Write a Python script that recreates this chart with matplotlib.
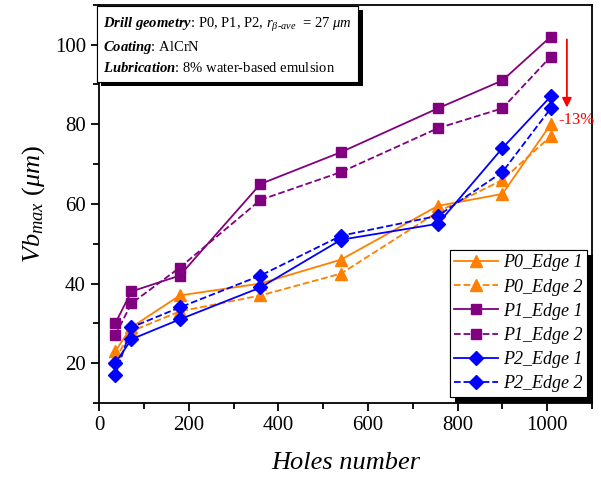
import matplotlib
matplotlib.use("Agg")
import matplotlib.pyplot as plt
from matplotlib.ticker import MultipleLocator
import matplotlib.patheffects as pe

plt.rcParams['font.family'] = ['Liberation Serif', 'DejaVu Serif']
plt.rcParams['mathtext.fontset'] = 'custom'
plt.rcParams['mathtext.rm'] = 'Liberation Serif'
plt.rcParams['mathtext.it'] = 'Liberation Serif:italic'
plt.rcParams['mathtext.bf'] = 'Liberation Serif:bold:italic'

holes = [36, 72, 180, 360, 540, 756, 900, 1008]
p0_edge1 = [23, 29, 37, 40, 46, 59.5, 62.5, 80]
p0_edge2 = [21, 28, 33, 37, 42.5, 58, 66, 77]
p1_edge1 = [30, 38, 42, 65, 73, 84, 91, 102]
p1_edge2 = [27, 35, 44, 61, 68, 79, 84, 97]
p2_edge1 = [20, 26, 31, 39, 51, 55, 74, 87]
p2_edge2 = [17, 29, 34, 42, 52, 57, 68, 84]

orange = '#FF8000'
purple = '#800080'
blue = '#0000FF'

fig = plt.figure(figsize=(6.01, 4.82), dpi=100)
ax = fig.add_axes([0.165, 0.164, 0.82, 0.826])

series = [
    ('P0_Edge 1', p0_edge1, orange, '-', '^', 8.5),
    ('P0_Edge 2', p0_edge2, orange, '--', '^', 8.5),
    ('P1_Edge 1', p1_edge1, purple, '-', 's', 7),
    ('P1_Edge 2', p1_edge2, purple, '--', 's', 7),
    ('P2_Edge 1', p2_edge1, blue, '-', 'D', 7),
    ('P2_Edge 2', p2_edge2, blue, '--', 'D', 7),
]
for name, vals, c, ls, m, ms in series:
    ax.plot(holes, vals, color=c, linestyle=ls, marker=m, markersize=ms,
            linewidth=1.3, label=name)

ax.set_xlim(0, 1100)
ax.set_ylim(10, 110)
ax.xaxis.set_major_locator(MultipleLocator(200))
ax.xaxis.set_minor_locator(MultipleLocator(100))
ax.yaxis.set_major_locator(MultipleLocator(20))
ax.yaxis.set_minor_locator(MultipleLocator(10))
ax.tick_params(which='both', direction='out', top=False, right=False, width=1.3)
ax.tick_params(which='major', length=6, labelsize=15)
ax.tick_params(which='minor', length=4)
for s in ax.spines.values():
    s.set_linewidth(1.3)

ax.set_xlabel('Holes number', fontsize=19, style='italic', labelpad=12)
ax.set_ylabel(r'$Vb_{max}$ $(\mu m)$', fontsize=19, labelpad=6)

leg = ax.legend(loc='lower right', bbox_to_anchor=(0.99, 0.015), borderaxespad=0,
                prop={'style': 'italic', 'size': 13},
                frameon=True, fancybox=False, shadow=False,
                edgecolor='black', framealpha=1, handlelength=2.4,
                handletextpad=0.3, labelspacing=0.4, borderpad=0.25)
leg.get_frame().set_linewidth(0.8)
leg.get_frame().set_path_effects([
    pe.withSimplePatchShadow(offset=(4, -4), shadow_rgbFace='black', alpha=1),
    pe.Normal()])

txt = (r'$\mathbf{Drill\ geometry}$: P0, P1, P2, $r_{\beta\text{-}ave}$  = $27\ \mu m$' '\n'
       r'$\mathbf{Coating}$: AlCrN' '\n'
       r'$\mathbf{Lubrication}$: 8% water-based emulsion')
ax.text(0.008, 0.972, txt, transform=ax.transAxes, fontsize=10.5, va='top', ha='left',
        linespacing=1.45,
        bbox=dict(boxstyle='square,pad=0.45', facecolor='white', edgecolor='black',
                  linewidth=0.8,
                  path_effects=[pe.withSimplePatchShadow(offset=(3, -3), shadow_rgbFace='black', alpha=1),
                                pe.Normal()]))

ax.annotate('', xy=(1044, 83.5), xytext=(1044, 102),
            arrowprops=dict(arrowstyle='-|>', color='red', lw=1.3, mutation_scale=14))
ax.text(1026, 81, '-13%', color='red', fontsize=12, va='center', ha='left', clip_on=False)

fig.savefig('out.png', dpi=100)
